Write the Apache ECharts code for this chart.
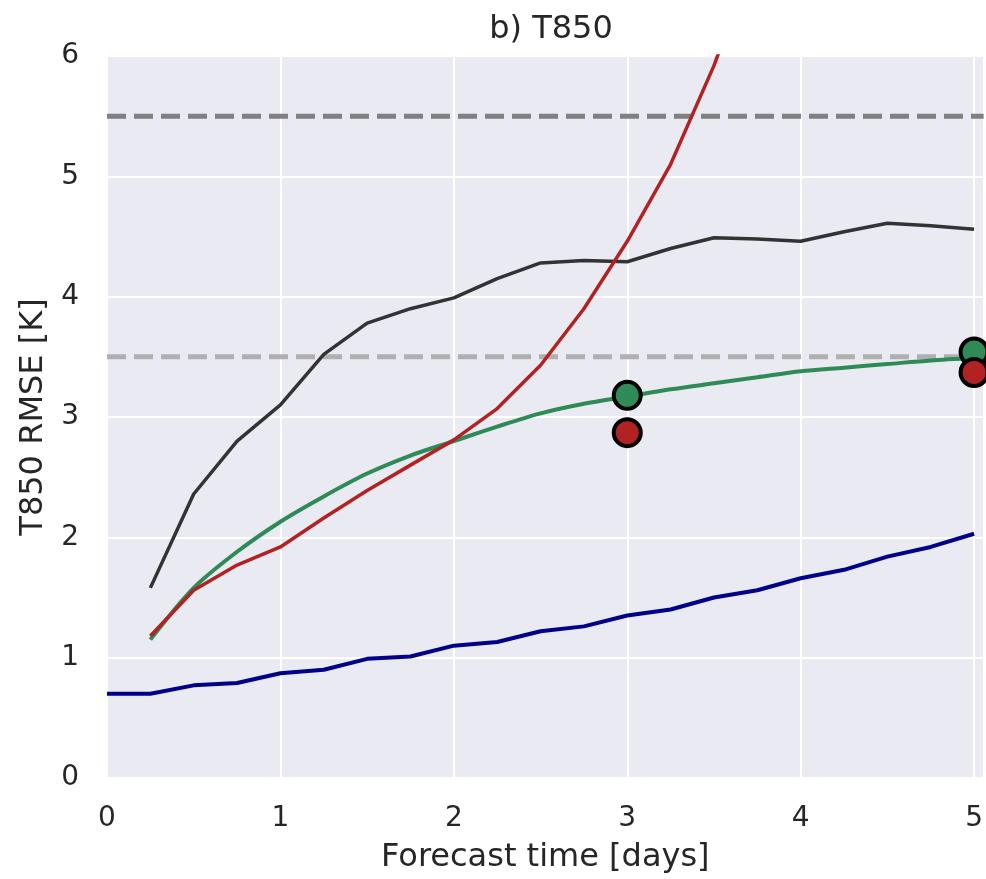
<!DOCTYPE html>
<html><head><meta charset="utf-8">
<script src="https://cdn.jsdelivr.net/npm/echarts@6/dist/echarts.min.js"></script>
<style>html,body{margin:0;padding:0;background:#fff}#c{width:986px;height:879px}</style>
</head><body><div id="c"></div>
<script>
const days = [0,0.25,0.5,0.75,1,1.25,1.5,1.75,2,2.25,2.5,2.75,3,3.25,3.5,3.75,4,4.25,4.5,4.75,5];
const blueVals  = [0.70,0.70,0.77,0.79,0.87,0.90,0.99,1.01,1.10,1.13,1.22,1.26,1.35,1.40,1.50,1.56,1.66,1.73,1.84,1.92,2.03];
const blackVals = [null,1.58,2.36,2.80,3.10,3.52,3.78,3.90,3.99,4.15,4.28,4.30,4.29,4.40,4.49,4.48,4.46,4.54,4.61,4.59,4.56];
const redVals   = [null,1.18,1.56,1.77,1.92,2.16,2.39,2.60,2.81,3.07,3.43,3.90,4.46,5.10,5.92,6.90,null,null,null,null,null];
const greenVals = [null,1.15,1.58,1.88,2.13,2.34,2.53,2.68,2.80,2.92,3.03,3.11,3.17,3.23,3.28,3.33,3.38,3.41,3.44,3.47,3.49];
const greenDots = [[3,3.18],[5,3.54]];
const redDots   = [[3,2.87],[5,3.37]];
const refLines  = [5.5, 3.5];
const xTicks = [0,1,2,3,4,5];
const yTicks = [0,1,2,3,4,5,6];
const xMax = 5.055;

const pair = v => days.map((d,i)=>[d,v[i]]);
const font = 'DejaVu Sans';
const chart = echarts.init(document.getElementById('c'));
chart.setOption({
  animation:false,
  backgroundColor:'#ffffff',
  title:{text:'b) T850',left:546,top:9,textAlign:'center',textStyle:{fontFamily:font,fontSize:32,fontWeight:'normal',color:'#262626'}},
  grid:{left:107,right:0,top:56,bottom:97,show:true,backgroundColor:'#eaeaf2',borderWidth:0},
  xAxis:{type:'value',min:0,max:xMax,interval:1,
    name:'Forecast time [days]',nameLocation:'middle',nameGap:64,
    nameTextStyle:{fontFamily:font,fontSize:32,color:'#262626'},
    axisLine:{show:false},axisTick:{show:false},
    axisLabel:{fontFamily:font,fontSize:28,color:'#262626',margin:27,showMaxLabel:false,
      formatter:v=>xTicks.includes(v)?String(v):''},
    splitLine:{show:true,lineStyle:{color:'#ffffff',width:2}}},
  yAxis:{type:'value',min:0,max:6,interval:1,
    name:'T850 RMSE [K]',nameLocation:'middle',nameGap:57,nameRotate:90,
    nameTextStyle:{fontFamily:font,fontSize:32,color:'#262626'},
    axisLine:{show:false},axisTick:{show:false},
    axisLabel:{fontFamily:font,fontSize:28,color:'#262626',margin:28,
      formatter:v=>yTicks.includes(v)?String(v):''},
    splitLine:{show:true,lineStyle:{color:'#ffffff',width:2}}},
  series:[
    {type:'line',data:[[0,refLines[0]],[xMax,refLines[0]]],symbol:'none',z:1,
      lineStyle:{color:'#808080',width:5,type:[19,8]}},
    {type:'line',data:[[0,refLines[1]],[xMax,refLines[1]]],symbol:'none',z:1,
      lineStyle:{color:'#b0b0b0',width:5,type:[19,8]}},
    {type:'line',data:pair(blueVals),symbol:'none',z:3,lineStyle:{color:'#00008b',width:4}},
    {type:'line',data:pair(blackVals),symbol:'none',z:3,lineStyle:{color:'#333333',width:3.5}},
    {type:'line',data:pair(greenVals),symbol:'none',z:3,smooth:0.3,lineStyle:{color:'#2e8b57',width:4}},
    {type:'line',data:pair(redVals),symbol:'none',z:4,lineStyle:{color:'#b22222',width:3.5}},
    {type:'scatter',data:greenDots,symbol:'circle',symbolSize:27,z:6,clip:false,
      itemStyle:{color:'#2e8b57',opacity:1,borderColor:'#000000',borderWidth:4}},
    {type:'scatter',data:redDots,symbol:'circle',symbolSize:27,z:7,clip:false,
      itemStyle:{color:'#b22222',opacity:1,borderColor:'#000000',borderWidth:4}}
  ]
});
</script></body></html>
